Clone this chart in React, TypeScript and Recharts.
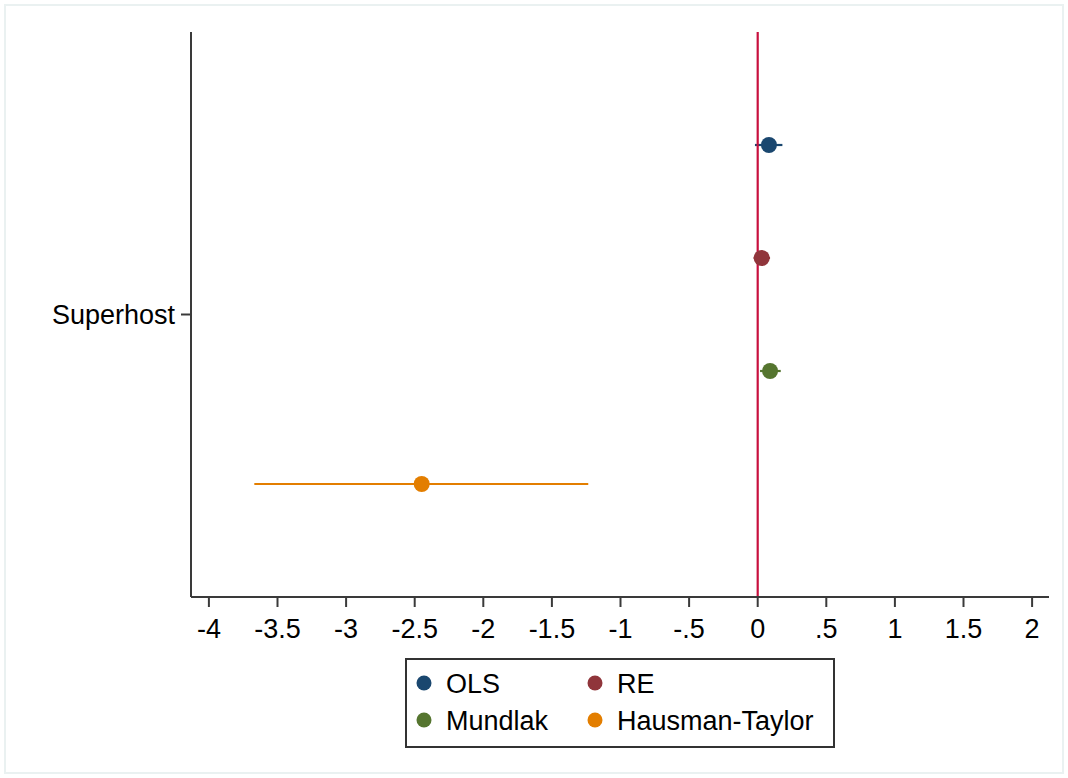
import React from 'react';
import { ScatterChart, Scatter, XAxis, YAxis, ErrorBar, ReferenceLine } from 'recharts';

const categories = ['OLS', 'RE', 'Mundlak', 'Hausman-Taylor'];
const colors = ['#1a476f', '#90353b', '#55752f', '#e37e00'];
const estimates = [0.082, 0.029, 0.09, -2.449];
const lower = [-0.02, -0.03, 0.017, -3.669];
const upper = [0.18, 0.09, 0.168, -1.235];
const positions = [1, 2, 3, 4];
const xTicks = [-4, -3.5, -3, -2.5, -2, -1.5, -1, -0.5, 0, 0.5, 1, 1.5, 2];
const yTickPositions = [2.5];
const yTickLabels = ['Superhost'];

const FONT = '"Liberation Sans", Arial, Helvetica, sans-serif';
const AXIS = '#3a3a3a';
const FS = 27;

const fmtX = (v: number) => String(v).replace(/^(-?)0\./, '$1.');
const fmtY = (v: number) => {
  const i = yTickPositions.indexOf(v);
  return i >= 0 ? yTickLabels[i] : '';
};

const series = categories.map((name, i) => ({
  name,
  color: colors[i],
  data: [{ x: estimates[i], y: positions[i], err: [estimates[i] - lower[i], upper[i] - estimates[i]] }],
}));

const legendPos = [
  { x: 424, y: 683 },
  { x: 595, y: 683 },
  { x: 424, y: 720 },
  { x: 595, y: 720 },
];

export default function App() {
  return (
    <div style={{ position: 'absolute', left: 0, top: 0, width: 1068, height: 778, background: '#fff' }}>
      <div
        style={{
          position: 'absolute',
          left: 4,
          top: 4,
          width: 1060,
          height: 770,
          border: '2px solid #eaf1f1',
          boxSizing: 'border-box',
        }}
      />
      <div style={{ position: 'absolute', left: 0, top: 0 }}>
        <ScatterChart width={1068} height={778} margin={{ top: 32, right: 19, left: 0, bottom: 0 }}>
          <XAxis
            type="number"
            dataKey="x"
            domain={[(191 - 757.7) / 137.2, (1049 - 757.7) / 137.2]}
            allowDataOverflow
            ticks={xTicks}
            interval={0}
            tickFormatter={fmtX}
            height={181}
            tickSize={10}
            tickMargin={12}
            axisLine={{ stroke: AXIS, strokeWidth: 2 }}
            tickLine={{ stroke: AXIS, strokeWidth: 2 }}
            tick={{ fill: '#000', fontSize: FS, fontFamily: FONT }}
          />
          <YAxis
            type="number"
            dataKey="y"
            domain={[0, 5]}
            reversed
            allowDataOverflow
            ticks={yTickPositions}
            interval={0}
            tickFormatter={fmtY}
            width={191}
            tickSize={10}
            tickMargin={6}
            axisLine={{ stroke: AXIS, strokeWidth: 2 }}
            tickLine={{ stroke: AXIS, strokeWidth: 2 }}
            tick={{ fill: '#000', fontSize: FS, fontFamily: FONT }}
          />
          {series.map((s) => (
            <Scatter
              key={s.name}
              name={s.name}
              data={s.data}
              fill={s.color}
              isAnimationActive={false}
              shape={(p: any) => <circle cx={p.cx} cy={p.cy} r={8} fill={s.color} />}
            >
              <ErrorBar dataKey="err" direction="x" width={0} stroke={s.color} strokeWidth={2.2} />
            </Scatter>
          ))}
          <ReferenceLine x={0} stroke="#c8103e" strokeWidth={2.2} />
        </ScatterChart>
      </div>
      <svg style={{ position: 'absolute', left: 0, top: 0 }} width={1068} height={778}>
        <rect x={406} y={659} width={428} height={88} fill="#fff" stroke="#333" strokeWidth={2} />
        {categories.map((c, i) => (
          <g key={c}>
            <circle cx={legendPos[i].x} cy={legendPos[i].y} r={7.5} fill={colors[i]} />
            <text
              x={legendPos[i].x + 22}
              y={legendPos[i].y}
              dy="0.36em"
              fontSize={FS}
              fontFamily={FONT}
              fill="#000"
            >
              {c}
            </text>
          </g>
        ))}
      </svg>
    </div>
  );
}
